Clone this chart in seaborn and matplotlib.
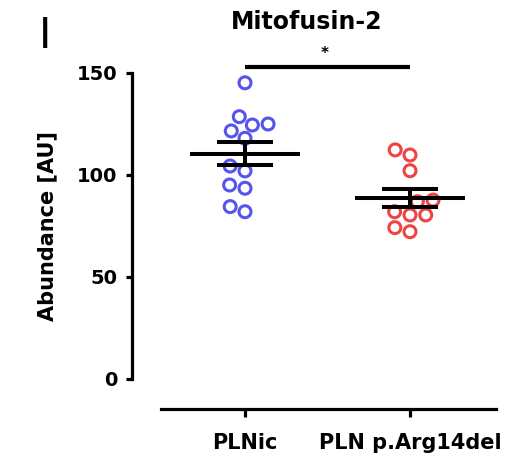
import numpy as np
import pandas as pd
import matplotlib
matplotlib.use("Agg")
import matplotlib.pyplot as plt
import seaborn as sns

# ---- data ----
categories = ["PLNic", "PLN p.Arg14del"]
plnic_values = [145.2, 125.0, 128.6, 121.6, 124.5, 118.0, 104.4, 102.0, 95.1, 93.5, 82.0, 84.5]
arg14del_values = [112.3, 109.8, 102.1, 86.9, 87.7, 80.4, 82.0, 80.4, 72.2, 74.2]
y_ticks = [0, 50, 100, 150]
title_text = "Mitofusin-2"
y_label = "Abundance [AU]"
panel_label = "I"
sig_text = "*"
colors = ["#5555EE", "#EE4444"]

df = pd.DataFrame({
    "group": [categories[0]] * len(plnic_values) + [categories[1]] * len(arg14del_values),
    "abundance": plnic_values + arg14del_values,
})

sns.set_style("white")
plt.rcParams["font.family"] = ["DejaVu Sans"]
plt.rcParams["font.weight"] = "bold"
plt.rcParams["text.color"] = "black"
plt.rcParams["axes.labelcolor"] = "black"

fig = plt.figure(figsize=(5.28, 4.58), dpi=100)
ax = fig.add_axes([160.85 / 528, (458 - 379) / 458, (495.8 - 160.85) / 528, 306 / 458])

sns.swarmplot(data=df, x="group", y="abundance", hue="group", order=categories,
              hue_order=categories, palette=colors, size=8.6, linewidth=2.2,
              legend=False, ax=ax, zorder=2)
for coll in ax.collections:
    fc = coll.get_facecolor()
    coll.set_edgecolor(fc)
    coll.set_facecolor("none")
    coll.set_linewidth(2.2)

# mean +/- SEM
for i, vals in enumerate([plnic_values, arg14del_values]):
    v = np.asarray(vals)
    m = v.mean()
    se = v.std(ddof=1) / np.sqrt(len(v))
    ax.hlines(m, i - 0.333, i + 0.333, color="black", lw=2.9, zorder=5)
    ax.hlines([m - se, m + se], i - 0.167, i + 0.167, color="black", lw=2.9, zorder=5)
    ax.vlines(i, m - se, m + se, color="black", lw=2.9, zorder=5)

ax.set_xlim(-0.51, 1.52)
ax.set_ylim(0, 150)
ax.set_yticks(y_ticks)
ax.set_yticklabels([str(t) for t in y_ticks])
ax.set_xticks(range(len(categories)))
ax.set_xticklabels(categories)
ax.set_xlabel("")

for s in ["top", "right"]:
    ax.spines[s].set_visible(False)
ax.spines["left"].set_position(("outward", 20.5))
ax.spines["bottom"].set_position(("outward", 21.6))
ax.spines["left"].set_linewidth(2.3)
ax.spines["bottom"].set_linewidth(2.3)
ax.spines["left"].set_color("black")
ax.spines["bottom"].set_color("black")
ax.tick_params(axis="y", direction="out", length=4, width=2.3, pad=7, colors="black",
               left=True, labelsize=14)
ax.tick_params(axis="x", direction="out", length=5.5, width=2.3, pad=12, colors="black",
               bottom=True, labelsize=15)
for lab in ax.get_xticklabels() + ax.get_yticklabels():
    lab.set_fontweight("bold")
ax.set_ylabel(y_label, fontsize=15, fontweight="bold", labelpad=14, color="black")

# significance bar
ax.plot([0, 1], [153, 153], color="black", lw=3, clip_on=False, zorder=5,
        solid_capstyle="butt")
ax.text(0.48, 156, sig_text, ha="center", va="bottom", fontsize=11, fontweight="bold",
        clip_on=False)

fig.text(307 / 528, 1 - 22 / 458, title_text, ha="center", va="center",
         fontsize=17, fontweight="bold")
fig.text(45 / 528, 1 - 36 / 458, panel_label, ha="center", va="center",
         fontsize=30, fontweight="normal")

fig.savefig("out.png", dpi=100, facecolor="white")
